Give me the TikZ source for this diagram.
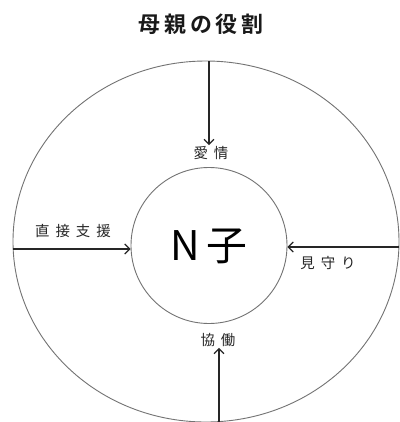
\documentclass[tikz,border=0pt]{standalone}
\usepackage{fontspec}
\setmainfont{Liberation Sans}
\newfontfamily\jp{Noto Sans CJK JP}
\newfontfamily\jpb{Noto Sans CJK JP Bold}
\usetikzlibrary{arrows.meta,shapes.geometric}
\tikzset{
  ring/.style={draw=black!55, line width=0.9bp},
  arr/.style={draw=black!85, line width=1.2bp, -{Straight Barb[length=5bp,width=10bp]}},
  lbl/.style={font=\jp\fontsize{14.5}{14.5}\selectfont, text=black!85, inner sep=1bp},
}
\newcommand{\gap}{\hspace{6bp}}
\begin{document}
\begin{tikzpicture}[x=1bp,y=-1bp]
\useasboundingbox (0,0) rectangle (400,422);
\fill[white] (0,0) rectangle (400,422);
% title
\node[font=\jpb\fontsize{22}{22}\selectfont, text=black!90] (title) at (201,24) {母\hspace{4bp}親\hspace{4bp}の\hspace{4bp}役\hspace{4bp}割};
% outer ellipse
\node[ring, ellipse, minimum width=386bp, minimum height=361bp, inner sep=0pt] (outer) at (206,241.5) {};
% inner circle
\node[ring, circle, minimum size=156bp, inner sep=0pt] (inner) at (209,245.5) {};
\node[font=\fontsize{41}{41}\selectfont\jp] (child) at (209,246) {N\hspace{7bp}子};
% labels
\node[lbl] (aijo) at (211,153) {愛\gap 情};
\node[lbl] (kyodo) at (218,340) {協\gap 働};
\node[lbl] (choku) at (73,231) {直\gap 接\gap 支\gap 援};
\node[lbl] (mimam) at (328,263) {見\gap 守\gap り};
% connector ends on outer ring
\coordinate (ptop) at (209,61);
\coordinate (pleft) at (13,249);
\coordinate (pright) at (399,247);
\coordinate (pbot) at (219,422);
\draw[arr] (ptop) -- (aijo.north -| ptop);
\draw[arr] (pleft) -- (inner.west |- pleft);
\draw[arr] (pright) -- (inner.east |- pright);
\draw[arr] (pbot) -- (kyodo.south -| pbot);
\end{tikzpicture}
\end{document}
